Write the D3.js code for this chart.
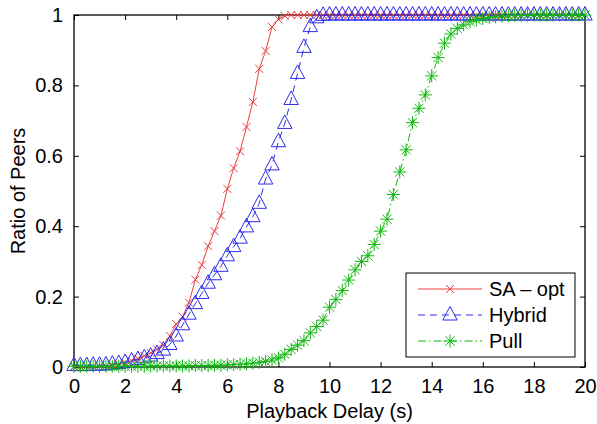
<!DOCTYPE html>
<html>
<head>
<meta charset="utf-8">
<script src="https://cdn.jsdelivr.net/npm/d3@7"></script>
<style>
  body { margin: 0; background: #fff; }
  text { font-family: "Liberation Sans", Arial, Helvetica, sans-serif; }
</style>
</head>
<body>
<div id="chart"></div>
<script>
// playback delay (s), sampled every 0.25 s
var delays = [0, 0.25, 0.5, 0.75, 1, 1.25, 1.5, 1.75, 2, 2.25, 2.5, 2.75, 3, 3.25, 3.5, 3.75,
  4, 4.25, 4.5, 4.75, 5, 5.25, 5.5, 5.75, 6, 6.25, 6.5, 6.75, 7, 7.25, 7.5, 7.75,
  8, 8.25, 8.5, 8.75, 9, 9.25, 9.5, 9.75, 10, 10.25, 10.5, 10.75, 11, 11.25, 11.5, 11.75,
  12, 12.25, 12.5, 12.75, 13, 13.25, 13.5, 13.75, 14, 14.25, 14.5, 14.75, 15, 15.25, 15.5, 15.75,
  16, 16.25, 16.5, 16.75, 17, 17.25, 17.5, 17.75, 18, 18.25, 18.5, 18.75, 19, 19.25, 19.5, 19.75, 20];

var saOpt = [0, 0, 0.001, 0.001, 0.002, 0.003, 0.005, 0.008, 0.012, 0.018, 0.024, 0.032, 0.04, 0.05, 0.062, 0.088,
  0.122, 0.143, 0.183, 0.248, 0.29, 0.343, 0.386, 0.43, 0.506, 0.565, 0.613, 0.682, 0.753, 0.847, 0.898, 0.966,
  0.988, 0.997, 1, 1, 1, 1, 1, 1, 1, 1, 1, 1, 1, 1, 1, 1,
  1, 1, 1, 1, 1, 1, 1, 1, 1, 1, 1, 1, 1, 1, 1, 1,
  1, 1, 1, 1, 1, 1, 1, 1, 1, 1, 1, 1, 1, 1, 1, 1, 1];

var hybrid = [0.004, 0.004, 0.004, 0.005, 0.005, 0.006, 0.008, 0.01, 0.013, 0.017, 0.021, 0.026, 0.031, 0.038, 0.048, 0.064,
  0.088, 0.12, 0.15, 0.18, 0.209, 0.238, 0.262, 0.286, 0.316, 0.342, 0.366, 0.398, 0.427, 0.465, 0.534, 0.574,
  0.64, 0.692, 0.76, 0.834, 0.908, 0.967, 0.992, 0.999, 1, 1, 1, 1, 1, 1, 1, 1,
  1, 1, 1, 1, 1, 1, 1, 1, 1, 1, 1, 1, 1, 1, 1, 1,
  1, 1, 1, 1, 1, 1, 1, 1, 1, 1, 1, 1, 1, 1, 1, 1, 1];

var pull = [0.002, 0.002, 0.002, 0.002, 0.002, 0.002, 0.002, 0.002, 0.002, 0.002, 0.002, 0.002, 0.003, 0.003, 0.003, 0.003,
  0.003, 0.003, 0.003, 0.004, 0.004, 0.004, 0.005, 0.005, 0.006, 0.007, 0.008, 0.009, 0.011, 0.013, 0.016, 0.02,
  0.026, 0.036, 0.05, 0.062, 0.075, 0.097, 0.115, 0.133, 0.17, 0.192, 0.217, 0.247, 0.276, 0.3, 0.316, 0.348,
  0.386, 0.42, 0.49, 0.554, 0.617, 0.694, 0.735, 0.773, 0.827, 0.879, 0.92, 0.946, 0.962, 0.972, 0.981, 0.986,
  0.99, 0.993, 0.995, 0.997, 0.998, 0.999, 0.999, 1, 1, 1, 1, 1, 1, 1, 1, 1, 1];

var xTicks = [0, 2, 4, 6, 8, 10, 12, 14, 16, 18, 20];
var yTicks = [0, 0.2, 0.4, 0.6, 0.8, 1];

var seriesNames = ["SA \u2013 opt", "Hybrid", "Pull"];

var series = [
  {name: seriesNames[0], values: saOpt, color: "#e8403f", dash: null, marker: "cross"},
  {name: seriesNames[1], values: hybrid, color: "#2b2bf0", dash: "7,5", marker: "triangle"},
  {name: seriesNames[2], values: pull, color: "#10b810", dash: "8,3,1.5,3", marker: "star"}
];

var W = 597, H = 424;
var margins = {top: 15, right: 12, bottom: 57, left: 74};
var width = W - margins.left - margins.right;
var height = H - margins.top - margins.bottom;

var xScale = d3.scaleLinear().domain([0, 20]).range([0, width]);
var yScale = d3.scaleLinear().domain([0, 1]).range([height, 0]);

var svg = d3.select("#chart").append("svg")
  .attr("width", W)
  .attr("height", H);

var chart = svg.append("g")
  .attr("transform", "translate(" + margins.left + "," + margins.top + ")");

// axes, ticks inside, mirrored on top/right
function styleAxis(g) {
  g.select(".domain").remove();
  g.selectAll("line").attr("stroke", "#000").attr("stroke-width", 1);
  g.selectAll("text").attr("fill", "#000").attr("font-size", 20)
    .style("font-family", "'Liberation Sans', Arial, sans-serif");
}

var fmt = function(d) { return d === 0 || d === 1 ? String(d) : d3.format(".1f")(d); };

chart.append("g")
  .attr("transform", "translate(0," + height + ")")
  .call(d3.axisBottom(xScale).tickValues(xTicks).tickSizeInner(-5).tickSizeOuter(0).tickPadding(12))
  .call(styleAxis);
chart.append("g")
  .call(d3.axisTop(xScale).tickValues(xTicks).tickSizeInner(-5).tickSizeOuter(0).tickFormat(""))
  .call(styleAxis);
chart.append("g")
  .call(d3.axisLeft(yScale).tickValues(yTicks).tickSizeInner(-5).tickSizeOuter(0).tickPadding(11).tickFormat(fmt))
  .call(styleAxis);
chart.append("g")
  .attr("transform", "translate(" + width + ",0)")
  .call(d3.axisRight(yScale).tickValues(yTicks).tickSizeInner(-5).tickSizeOuter(0).tickFormat(""))
  .call(styleAxis);

chart.append("rect")
  .attr("width", width)
  .attr("height", height)
  .attr("fill", "none")
  .attr("stroke", "#000")
  .attr("stroke-width", 1.3);

// marker shapes
var markerPaths = {
  cross: "M-4,-4L4,4M-4,4L4,-4",
  triangle: "M0,-8.5L7.2,5L-7.2,5Z",
  star: "M0,-6.5L0,6.5M-6.5,0L6.5,0M-4.6,-4.6L4.6,4.6M-4.6,4.6L4.6,-4.6"
};

var line = d3.line()
  .x(function(d) { return xScale(d.x); })
  .y(function(d) { return yScale(d.y); });

series.forEach(function(s) {
  var pts = delays.map(function(x, i) { return {x: x, y: s.values[i]}; });
  var g = chart.append("g");
  g.append("path")
    .datum(pts)
    .attr("d", line)
    .attr("fill", "none")
    .attr("stroke", s.color)
    .attr("stroke-width", 1)
    .attr("stroke-dasharray", s.dash);
  g.selectAll(".mk")
    .data(pts)
    .enter().append("path")
    .attr("class", "mk")
    .attr("transform", function(d) { return "translate(" + xScale(d.x) + "," + yScale(d.y) + ")"; })
    .attr("d", markerPaths[s.marker])
    .attr("fill", "none")
    .attr("stroke", s.color)
    .attr("stroke-width", 1);
});

// axis labels
svg.append("text")
  .attr("x", margins.left + width / 2)
  .attr("y", 418)
  .attr("text-anchor", "middle")
  .attr("font-size", 20)
  .text("Playback Delay (s)");

svg.append("text")
  .attr("transform", "translate(25," + (margins.top + height / 2) + ") rotate(-90)")
  .attr("text-anchor", "middle")
  .attr("font-size", 20)
  .text("Ratio of Peers");

// legend
var legend = svg.append("g").attr("transform", "translate(406,273)");
legend.append("rect")
  .attr("width", 169)
  .attr("height", 84)
  .attr("fill", "#fff")
  .attr("stroke", "#000")
  .attr("stroke-width", 1);

series.forEach(function(s, i) {
  var y = 16 + i * 26;
  legend.append("line")
    .attr("x1", 12).attr("x2", 76)
    .attr("y1", y).attr("y2", y)
    .attr("stroke", s.color)
    .attr("stroke-width", 1)
    .attr("stroke-dasharray", s.dash);
  legend.append("path")
    .attr("transform", "translate(44," + y + ")")
    .attr("d", markerPaths[s.marker])
    .attr("fill", "none")
    .attr("stroke", s.color)
    .attr("stroke-width", 1);
  legend.append("text")
    .attr("x", 83)
    .attr("y", y + 7)
    .attr("font-size", 20)
    .text(s.name);
});
</script>
</body>
</html>
